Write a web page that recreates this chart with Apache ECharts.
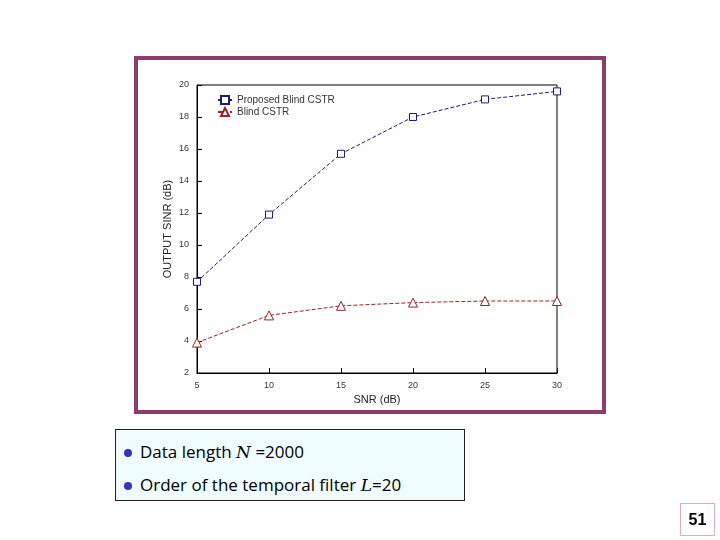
<!DOCTYPE html><html><head><meta charset="utf-8"><script src="https://cdn.jsdelivr.net/npm/echarts@6/dist/echarts.min.js"></script>
<style>body{margin:0;background:#fff;font-family:"Liberation Sans",sans-serif}
#frame{position:absolute;left:134px;top:56px;width:464px;height:350px;border:4px solid #8e3b6e}
#c{position:absolute;left:0;top:0;width:720px;height:540px}
#note{position:absolute;left:115px;top:429px;width:348px;height:70px;border:1px solid #222;background:#f0fdfd;font-family:"Comic Sans MS","Open Sans",sans-serif;font-size:17px}
#note div{position:absolute;left:8px}
.dot{display:inline-block;width:8px;height:8px;border-radius:50%;background:#3333cc;margin-right:8px;vertical-align:middle}
#pg{position:absolute;left:680px;top:503px;width:33px;height:31px;border:1px solid #e9a8c8;font-size:16px;font-weight:bold;text-align:center;line-height:31px}
</style></head><body>
<div id="frame"></div><div id="c"></div>
<div id="note"><div style="top:10px"><span class="dot"></span>Data length <i style="font-family:'DejaVu Serif'">N</i> =2000</div><div style="top:43px"><span class="dot"></span>Order of the temporal filter <i style="font-family:'DejaVu Serif'">L</i>=20</div></div>
<div id="pg">51</div>
<script>
const snr=[5,10,15,20,25,30];
const proposed=[7.7,11.9,15.7,18.0,19.1,19.6];
const blind=[3.9,5.6,6.2,6.4,6.5,6.5];
const ch=echarts.init(document.getElementById('c'));
const ax={color:'#333',fontSize:9};
ch.setOption({animation:false,
grid:{left:197,right:163,top:85,bottom:167,show:true,borderColor:'#000',borderWidth:1},
legend:{left:212,top:90,orient:'vertical',itemGap:2,itemWidth:14,itemHeight:10,textStyle:{fontSize:10,color:'#333'},data:['Proposed Blind CSTR','Blind CSTR']},
xAxis:{type:'value',min:5,max:30,interval:5,name:'SNR (dB)',nameLocation:'middle',nameGap:18,nameTextStyle:{fontSize:11,color:'#222'},axisLine:{lineStyle:{color:'#000'}},axisTick:{inside:true},axisLabel:ax,splitLine:{show:false}},
yAxis:{type:'value',min:2,max:20,interval:2,name:'OUTPUT SINR (dB)',nameLocation:'middle',nameGap:24,nameTextStyle:{fontSize:11,color:'#222'},axisLine:{lineStyle:{color:'#000'}},axisTick:{inside:true},axisLabel:ax,splitLine:{show:false}},
series:[
{name:'Proposed Blind CSTR',type:'line',data:snr.map((x,i)=>[x,proposed[i]]),symbol:'rect',symbolSize:7,itemStyle:{color:'#fff',borderColor:'#1a1a80',borderWidth:1},lineStyle:{color:'#1a1a80',width:1,type:'dashed'}},
{name:'Blind CSTR',type:'line',data:snr.map((x,i)=>[x,blind[i]]),symbol:'triangle',symbolSize:9,itemStyle:{color:'#fff',borderColor:'#a02020',borderWidth:1},lineStyle:{color:'#a02020',width:1,type:'dashed'}}
]});
</script></body></html>
